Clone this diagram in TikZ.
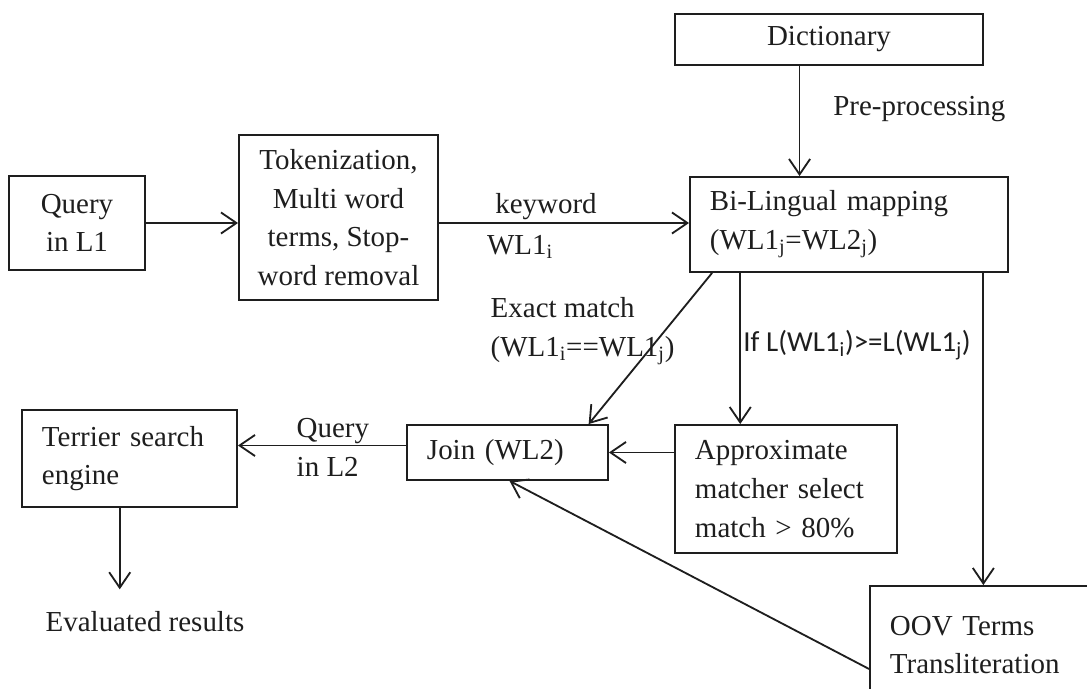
\documentclass[tikz,border=0pt]{standalone}
\usepackage{fontspec}
\setmainfont{Liberation Serif}
\newfontfamily\calibrifont{Carlito}
\usetikzlibrary{arrows.meta,calc}
\definecolor{ink}{HTML}{1E1E1E}
\tikzset{>={Straight Barb[length=11pt,width=15pt]},
  every node/.style={font=\fontsize{20.6}{27.5}\selectfont,text=ink},
  box/.style={draw=ink,align=center,inner sep=0pt},
  leftbox/.style={draw=ink,align=left,inner xsep=.5cm,inner ysep=0pt},
  flow/.style={->,draw=ink},
  lbl/.style={inner sep=2pt}}
\begin{document}
\begin{tikzpicture}[x=.025cm,y=-.025cm,line width=1.3pt]
\useasboundingbox (0,0) rectangle (1087,689);
\clip (0,0) rectangle (1087,689);
\node[box,minimum width=7.7cm,minimum height=1.275cm] (dict) at (829,39.5) {Dictionary};
\node[leftbox,text width=6.95cm,minimum height=2.375cm] (bil) at (849,224.5) {Bi-Lingual mapping\\(WL1\textsubscript{j}=WL2\textsubscript{j})};
\node[box,minimum width=3.4cm,minimum height=2.35cm] (qone) at (77,223) {Query\\in L1};
\node[box,minimum width=4.975cm,minimum height=4.125cm] (tok) at (338.5,217.5) {Tokenization,\\Multi word\\terms, Stop-\\word removal};
\node[leftbox,text width=4.025cm,minimum height=1.375cm] (join) at (507.5,452.5) {Join (WL2)};
\node[leftbox,text width=4.55cm,minimum height=3.2cm] (appr) at (786,489) {Approximate\\matcher select\\match > 80\%};
\node[leftbox,text width=4.375cm,minimum height=2.425cm] (terr) at (129.5,458.5) {Terrier search\\engine};
\node[leftbox,text width=5cm,minimum height=2.95cm] (oov) at (990,645) {OOV Terms\\Transliteration};
\node (eval) at (145,622) {Evaluated results};
% main path, left to right
\draw[flow] (qone.east) -- (qone.east -| tok.west);
\draw[flow] (tok.east |- qone.east) -- node[lbl,above,xshift=-.45cm] {keyword}
  node[lbl,below=6pt,xshift=-1.1cm] {WL1\textsubscript{i}} (bil.west |- qone.east);
\draw[flow] ($(dict.south west)!.405!(dict.south east)$) coordinate (dtop)
  -- node[lbl,right=.75cm,pos=.39] {Pre-processing} (dtop |- bil.north);
% three ways out of the mapping
\draw[flow] ($(bil.south west)!.072!(bil.south east)$) -- ($(join.north west)!.9!(join.north east)$);
\node[lbl,align=left,anchor=west] (exact) at (487,331) {Exact match\\(WL1\textsubscript{i}==WL1\textsubscript{j})};
\draw[flow] ($(bil.south west)!.16!(bil.south east)$) coordinate (amid) -- (amid |- appr.north);
\node[lbl,font=\fontsize{20.6}{27.5}\calibrifont] (cond) at (857,345) {If L(WL1\textsubscript{i})>=L(WL1\textsubscript{j})};
\draw[flow] ($(bil.south west)!.92!(bil.south east)$) coordinate (oright) -- (oright |- oov.north);
\draw[flow] (appr.west |- join.east) -- (join.east);
\draw[flow] ($(oov.north west)!.7!(oov.south west)$) -- ($(join.south west)!.51!(join.south east)$);
\draw[flow] ($(join.west)+(0,-7)$) coordinate (jout) -- (jout -| terr.east);
\node[lbl,align=left,anchor=west] (qtwo) at (293,447.5) {Query\\in L2};
\draw[flow,shorten >=12pt] ($(terr.south west)!.455!(terr.south east)$) coordinate (tbot) -- (tbot |- eval.north);
\end{tikzpicture}
\end{document}
